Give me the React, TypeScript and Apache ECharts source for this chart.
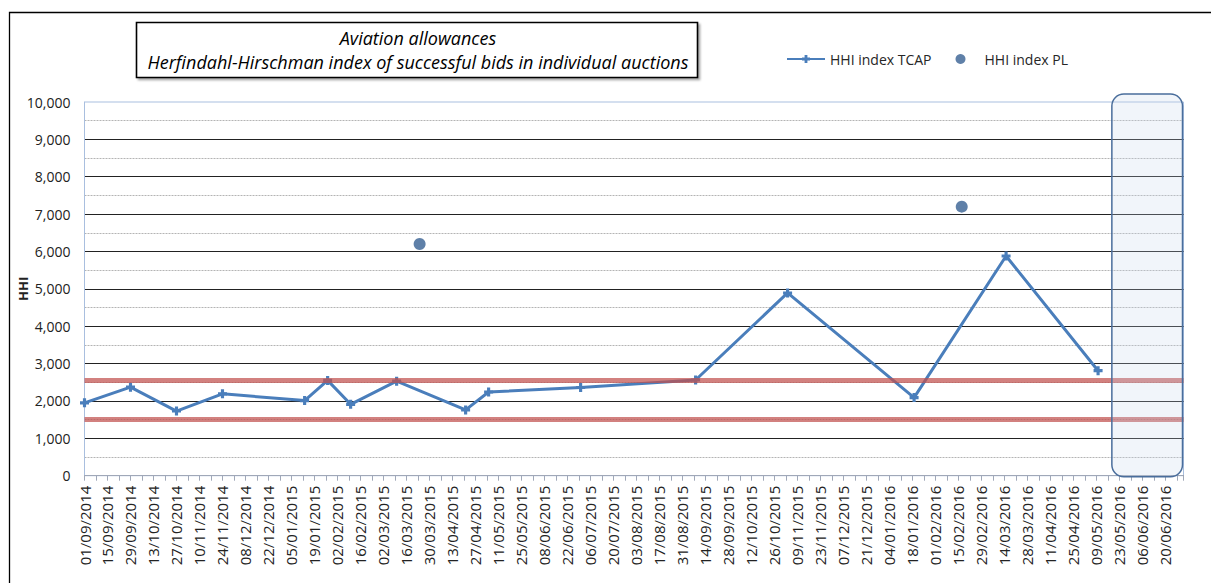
import React, { useEffect, useRef } from "react";
import * as echarts from "echarts";

// ---------- data ----------
const axisStartDate = "01/09/2014";
const axisEndDate = "01/07/2016";
const tickStepDays = 14;

const tcapDates = [
  "01/09/2014", "29/09/2014", "27/10/2014", "24/11/2014", "13/01/2015", "27/01/2015",
  "10/02/2015", "10/03/2015", "21/04/2015", "05/05/2015", "30/06/2015", "08/09/2015",
  "03/11/2015", "19/01/2016", "15/03/2016", "10/05/2016",
];
const tcapValues = [1950, 2370, 1730, 2190, 2010, 2550, 1910, 2530, 1760, 2240, 2360, 2560, 4890, 2090, 5880, 2810];

const plDates = ["24/03/2015", "17/02/2016"];
const plValues = [6200, 7200];

const thresholdValues = [1500, 2550];
const shadedStartDate = "19/05/2016";

const titleLines = ["Aviation allowances", "Herfindahl-Hirschman index of successful bids in individual auctions"];
const seriesNames = ["HHI index TCAP", "HHI index PL"];

// ---------- helpers ----------
const DAY = 86400000;
function parseDate(s: string): number {
  const [d, m, y] = s.split("/").map(Number);
  return Date.UTC(y, m - 1, d);
}
const t0 = parseDate(axisStartDate);
const toDay = (s: string) => Math.round((parseDate(s) - t0) / DAY);
function fmtDay(v: number): string {
  const dt = new Date(t0 + v * DAY);
  const dd = String(dt.getUTCDate()).padStart(2, "0");
  const mm = String(dt.getUTCMonth() + 1).padStart(2, "0");
  return `${dd}/${mm}/${dt.getUTCFullYear()}`;
}

const FONT = "'Open Sans', 'Liberation Sans', sans-serif";
const PLUS = "path://M2.6,0 L5.4,0 L5.4,2.6 L8,2.6 L8,5.4 L5.4,5.4 L5.4,8 L2.6,8 L2.6,5.4 L0,5.4 L0,2.6 L2.6,2.6 Z";

export default function App() {
  const ref = useRef<HTMLDivElement>(null);

  useEffect(() => {
    document.body.style.margin = "0";
    const chart = echarts.init(ref.current!, undefined, { renderer: "svg" });
    const xMax = toDay(axisEndDate);

    const baseGraphics: any[] = [
      {
        type: "rect",
        shape: { x: 9.5, y: 12.5, width: 1215, height: 590 },
        style: { fill: "none", stroke: "#000", lineWidth: 1.3 },
        silent: true,
        z: 1,
      },
      {
        type: "rect",
        shape: { x: 136.5, y: 22.5, width: 561, height: 55 },
        style: {
          fill: "#fff",
          stroke: "#000",
          lineWidth: 1.6,
          shadowBlur: 2,
          shadowColor: "rgba(0,0,0,0.35)",
          shadowOffsetX: 2,
          shadowOffsetY: 2,
        },
        z: 2,
      },
      {
        type: "text",
        style: {
          text: titleLines[0],
          x: 418,
          y: 38,
          align: "center",
          verticalAlign: "middle",
          font: `italic 18px ${FONT}`,
          fill: "#000",
        },
        z: 3,
      },
      {
        type: "text",
        style: {
          text: titleLines[1],
          x: 418,
          y: 62,
          align: "center",
          verticalAlign: "middle",
          font: `italic 18px ${FONT}`,
          fill: "#000",
        },
        z: 3,
      },
    ];

    const option: any = {
      animation: false,
      backgroundColor: "#fff",
      textStyle: { fontFamily: FONT },
      grid: {
        left: 84.5,
        right: 27.5,
        top: 102,
        bottom: 107.3,
        show: true,
        borderColor: "#a9bfdf",
        borderWidth: 1,
        backgroundColor: "transparent",
        containLabel: false,
        outerBoundsMode: "none",
      },
      legend: {
        left: 781,
        top: 47,
        itemWidth: 38,
        itemHeight: 10,
        itemGap: 24,
        textStyle: { fontSize: 14, color: "#262626", fontFamily: FONT },
        data: [
          { name: seriesNames[0] },
          { name: seriesNames[1], icon: "circle", itemStyle: { color: "#376092" } },
        ],
      },
      xAxis: {
        type: "value",
        min: 0,
        max: xMax,
        interval: tickStepDays,
        axisLine: { show: true, lineStyle: { color: "#a0a8b8", width: 1 } },
        axisTick: { show: true, length: 5, lineStyle: { color: "#a0a8b8" } },
        minorTick: { show: true, splitNumber: 2, length: 5, lineStyle: { color: "#a0a8b8" } },
        splitLine: { show: false },
        axisLabel: {
          rotate: 90,
          margin: 10,
          fontSize: 15,
          color: "#222",
          fontFamily: FONT,
          showMaxLabel: false,
          formatter: (v: number) => (v % tickStepDays === 0 ? fmtDay(v) : ""),
        },
      },
      yAxis: {
        type: "value",
        min: 0,
        max: 10000,
        interval: 1000,
        name: "HHI",
        nameLocation: "middle",
        nameGap: 55,
        nameRotate: 90,
        nameMoveOverlap: false,
        nameTextStyle: { fontSize: 13, fontWeight: "bold", color: "#222", fontFamily: FONT },
        axisLine: { show: true, lineStyle: { color: "#a9bfdf" } },
        axisTick: { show: false },
        axisLabel: {
          margin: 14,
          fontSize: 14,
          color: "#222",
          fontFamily: FONT,
          formatter: (v: number) => v.toLocaleString("en-US"),
        },
        splitLine: { show: true, showMaxLine: false, lineStyle: { color: "#222", width: 1 } },
        minorTick: { show: false, splitNumber: 2 },
        minorSplitLine: { show: true, lineStyle: { color: "#b4b4b4", type: [2, 1], width: 1 } },
      },
      series: [
        {
          name: seriesNames[0],
          type: "line",
          data: tcapDates.map((d, i) => [toDay(d), tcapValues[i]]),
          symbol: PLUS,
          symbolSize: 9,
          showAllSymbol: true,
          lineStyle: { color: "#4a7ebb", width: 3 },
          itemStyle: { color: "#4a7ebb" },
          z: 3,
          markLine: {
            silent: true,
            symbol: "none",
            label: { show: false },
            lineStyle: { color: "rgba(192,80,77,0.72)", width: 5, type: "solid" },
            data: thresholdValues.map((v) => ({ yAxis: v })),
            z: 4,
          },
        },
        {
          name: seriesNames[1],
          type: "scatter",
          data: plDates.map((d, i) => [toDay(d), plValues[i]]),
          symbol: "circle",
          symbolSize: 12,
          itemStyle: { color: "#376092" },
          z: 3,
        },
      ],
      graphic: baseGraphics,
    };

    chart.setOption(option);

    const x0 = chart.convertToPixel({ gridIndex: 0 } as any, [toDay(shadedStartDate), 0]) as number[];
    const x1 = chart.convertToPixel({ gridIndex: 0 } as any, [xMax, 10000]) as number[];
    const left = x0[0] - 1;
    const right = x1[0] - 1;
    const top = x1[1] - 8;
    const bottom = x0[1] + 1;
    chart.setOption({
      graphic: [
        ...baseGraphics,
        {
          type: "rect",
          shape: { x: left, y: top, width: right - left, height: bottom - top, r: 12 },
          style: { fill: "rgba(198,214,236,0.25)", stroke: "#4a6e9c", lineWidth: 1.5 },
          silent: true,
          z: 5,
        },
      ],
    });

    return () => chart.dispose();
  }, []);

  return <div ref={ref} style={{ width: 1211, height: 583 }} />;
}
